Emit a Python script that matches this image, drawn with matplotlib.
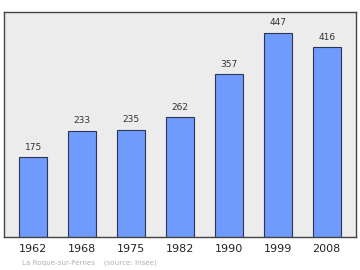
import matplotlib
matplotlib.use('Agg')
import matplotlib.pyplot as plt

# population data
years = ['1962', '1968', '1975', '1982', '1990', '1999', '2008']
population = [175, 233, 235, 262, 357, 447, 416]

fig = plt.figure(figsize=(3.6, 2.7), dpi=100)
ax = fig.add_axes([0.011, 0.122, 0.978, 0.832])
ax.set_facecolor('#ececec')

x = range(len(years))
ax.bar(x, population, width=0.57, color='#6f9bff', edgecolor='#2a3550', linewidth=0.8)

# value labels above bars
for i, v in enumerate(population):
    ax.text(i, v + 12, str(v), ha='center', va='bottom', fontsize=6.5, color='#333333')

ax.set_xlim(-0.6, 6.6)
ax.set_ylim(0, 492)
ax.set_xticks(list(x))
ax.set_xticklabels(years, fontsize=8, color='#222222')
ax.tick_params(axis='x', length=0, pad=5)
ax.set_yticks([])
for s in ax.spines.values():
    s.set_color('#444444')
    s.set_linewidth(1.0)

fig.text(0.061, 0.02, 'La Roque-sur-Pernes    (source: Insee)', fontsize=5.1, color='#b0b0b0')

fig.savefig('out.png', dpi=100)
